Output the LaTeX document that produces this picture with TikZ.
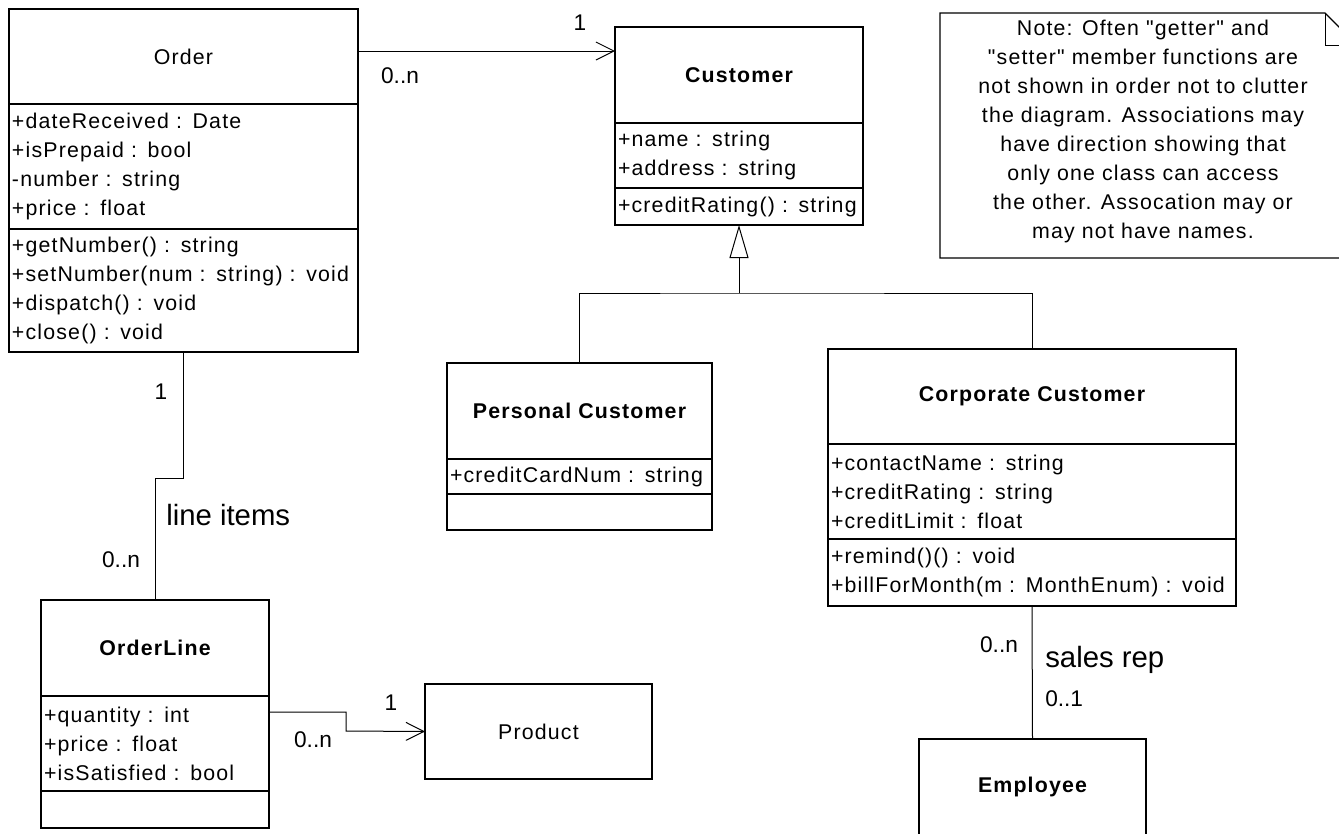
\documentclass[tikz,border=0pt]{standalone}
\usepackage{fontspec}
\setmainfont{Liberation Sans}[LetterSpace=5.5]
\newfontfamily\plainsans{Liberation Sans}
\newfontfamily\notefont{Liberation Sans}[LetterSpace=5.5]
\usetikzlibrary{arrows.meta}
\begin{document}
\begin{tikzpicture}[x=0.75pt,y=-0.75pt,
  box/.style={draw, line width=0.9pt, anchor=north west, inner sep=0pt, outer sep=0pt},
  ttl/.style={box, font=\fontsize{16}{20}\selectfont\bfseries, align=center},
  ttlr/.style={box, font=\fontsize{16}{20}\selectfont, align=center},
  cmp/.style={box, font=\fontsize{16}{21.75}\selectfont, align=left, inner xsep=2.25pt},
  mult/.style={font=\plainsans\fontsize{17}{20}\selectfont, inner sep=0pt},
  role/.style={font=\plainsans\fontsize{22}{26}\selectfont, inner sep=0pt},
  conn/.style={line width=0.75pt},
  nav/.style={conn, -{Straight Barb[length=13.5pt, width=13.5pt]}},
  gen/.style={conn, -{Triangle[open, length=24.75pt, width=14.25pt, fill=white]}},
  notebox/.style={draw, line width=0.9pt},
]
\useasboundingbox (0,0) rectangle (1339,833);
\clip (0,0) rectangle (1339,833);

% Order
\node[ttlr, minimum width=261.75pt, minimum height=71.25pt] (ordT) at (9,9) {Order};
\node[cmp, text width=257.25pt, minimum height=93.75pt] (ordA) at (ordT.south west)
  {+dateReceived : Date\\+isPrepaid : bool\\-number : string\\+price : float};
\node[cmp, text width=257.25pt, minimum height=92.25pt] (ordM) at (ordA.south west)
  {+getNumber() : string\\+setNumber(num : string) : void\\+dispatch() : void\\+close() : void};

% Customer
\node[ttl, minimum width=186pt, minimum height=72pt] (custT) at (615,27) {Customer};
\node[cmp, text width=181.5pt, minimum height=48.75pt] (custA) at (custT.south west)
  {+name : string\\+address : string};
\node[cmp, text width=181.5pt, minimum height=27.75pt] (custM) at (custA.south west)
  {+creditRating() : string};

% Personal Customer
\node[ttl, minimum width=198.75pt, minimum height=72pt] (pcT) at (447,363) {Personal Customer};
\node[cmp, text width=194.25pt, minimum height=26.25pt] (pcA) at (pcT.south west)
  {+creditCardNum : string};
\node[cmp, text width=194.25pt, minimum height=27pt] (pcM) at (pcA.south west) {};

% Corporate Customer
\node[ttl, minimum width=306pt, minimum height=71.25pt] (ccT) at (828,349) {Corporate Customer};
\node[cmp, text width=301.5pt, minimum height=71.25pt] (ccA) at (ccT.south west)
  {+contactName : string\\+creditRating : string\\+creditLimit : float};
\node[cmp, text width=301.5pt, minimum height=50.25pt] (ccM) at (ccA.south west)
  {+remind()() : void\\+billForMonth(m : MonthEnum) : void};

% OrderLine
\node[ttl, minimum width=171pt, minimum height=72pt] (olT) at (41,600) {OrderLine};
\node[cmp, text width=166.5pt, minimum height=71.25pt] (olA) at (olT.south west)
  {+quantity : int\\+price : float\\+isSatisfied : bool};
\node[cmp, text width=166.5pt, minimum height=27.75pt] (olM) at (olA.south west) {};

% Product
\node[ttlr, minimum width=170.25pt, minimum height=71.25pt] (prod) at (425,684) {Product};

% Employee
\node[ttl, minimum width=170.25pt, minimum height=72pt] (emp) at (919,739) {Employee};

% Note
\draw[notebox] (940,13) -- (1325,13) -- (1357,45) -- (1357,258) -- (940,258) -- cycle;
\draw[conn] (1325,13) -- (1325,45) -- (1357,45);
\node[font=\notefont\fontsize{16}{21.75}\selectfont, align=center, inner sep=0pt] (noteT) at (1143,131.5)
  {Note: Often "getter" and\\"setter" member functions are\\not shown in order not to clutter\\the diagram. Associations may\\have direction showing that\\only one class can access\\the other. Assocation may or\\may not have names.};

% Order -> Customer
\draw[nav] (ordT.east |- 0,51) -- (custT.west |- 0,51);
\node[mult] (m1) at (580,23) {1};
\node[mult] (m2) at (400,76) {0..n};

% Generalization
\coordinate (gj) at (custM.south |- 0,293);
\draw[conn] (pcT.north) |- (gj) -| (ccT.north);
\draw[gen] (gj) -- (custM.south);

% Order -- OrderLine
\coordinate (ob) at (183,478);
\draw[conn] (ordM.south) -- (ordM.south |- ob) -| (olT.north);
\node[mult] (m3) at (161,392) {1};
\node[role, anchor=west] (li) at (166,515) {line items};
\node[mult] (m4) at (121,560) {0..n};

% OrderLine -> Product
\coordinate (pb) at (346,731);
\draw[nav] (olA.east |- 0,712) -| (pb) -- (prod.west);
\node[mult] (m5) at (391,703) {1};
\node[mult] (m6) at (313,740) {0..n};

% Corporate -- Employee
\draw[conn] (ccM.south) -- (emp.north);
\node[mult] (m7) at (999,645) {0..n};
\node[role, anchor=west] (sr) at (1045,660) {sales rep};
\node[mult, anchor=west] (m8) at (1045,699) {0..1};
\end{tikzpicture}
\end{document}
